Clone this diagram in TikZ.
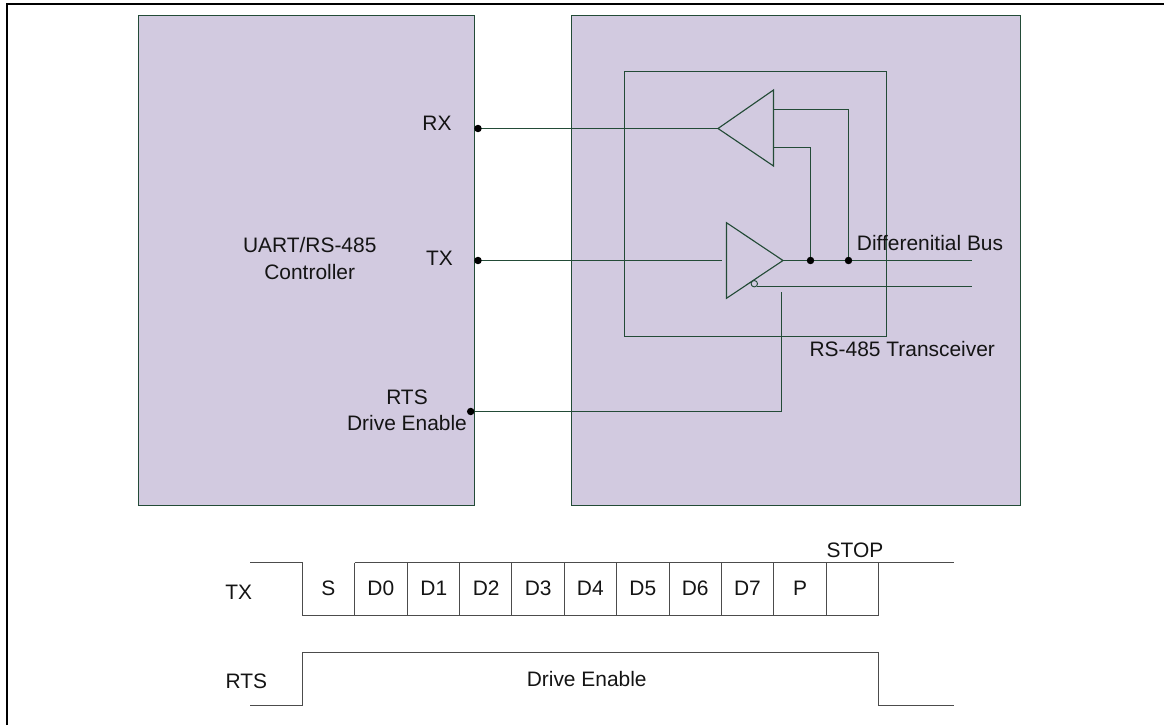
\documentclass[tikz,border=0pt]{standalone}
\usepackage{fontspec}
\setmainfont{Liberation Sans}
\definecolor{panel}{RGB}{210,202,224}
\definecolor{wire}{RGB}{35,75,55}
\tikzset{
  x=0.75pt,y=-0.75pt,
  panelbox/.style={draw=wire,fill=panel,line width=0.85pt},
  wireline/.style={draw=wire,line width=0.85pt},
  wave/.style={draw=black!70,line width=0.9pt},
  lbl/.style={font=\fontsize{15.7pt}{18pt}\selectfont,inner sep=0pt,anchor=base,text=black!92},
  jdot/.style={circle,fill=black,inner sep=0pt,minimum size=5.6pt},
  bubble/.style={circle,draw=wire,fill=panel,inner sep=0pt,minimum size=4.8pt,line width=0.7pt},
}
\begin{document}
\begin{tikzpicture}
\useasboundingbox (0,0) rectangle (1164,725);
\draw[black,line width=1.5pt] (7,725) -- (7,4.3) -- (1164,4.3);
\path[panelbox] (138.5,15.5) rectangle (474.5,505.5);
\path[panelbox] (571.5,15.5) rectangle (1020.5,505.5);
\path[wireline] (624.5,71.5) rectangle (886.5,336.5);
\coordinate (rxp) at (478,128.5);
\coordinate (txp) at (478,260.5);
\coordinate (rtsp) at (470.7,411.5);
\path[wireline] (718,128.5) -- (773.5,90) -- (773.5,166) -- cycle;
\path[wireline] (726.5,222.7) -- (783,260.5) -- (726.5,298.3) -- cycle;
\coordinate (j1) at (810.5,260.5);
\coordinate (j2) at (848.5,260.5);
\path[wireline] (rxp) -- (718,128.5);
\path[wireline] (txp) -- (721.7,260.5);
\path[wireline] (783,260.5) -- (971.7,260.5);
\path[wireline] (773.5,147.5) -| (j1);
\path[wireline] (773.5,109.5) -| (j2);
\path[wireline] (757,286.5) -- (971.7,286.5);
\path[wireline] (rtsp) -| (781.5,291.7);
\node[bubble] at (754.3,283.7) {};
\foreach \p in {rxp,txp,rtsp,j1,j2} \node[jdot] at (\p) {};
\node[lbl] at (437,130) {RX};
\node[lbl] at (439.5,265.5) {TX};
\node[lbl] at (309.7,252.7) {UART/RS-485};
\node[lbl] at (309.7,279) {Controller};
\node[lbl] at (930,250.7) {Differenitial Bus};
\node[lbl] at (902.3,356.7) {RS-485 Transceiver};
\node[lbl] at (407,404) {RTS};
\node[lbl] at (407,430) {Drive Enable};
\path[wave] (250,562.5) -| (302.5,615.5) -- (878.5,615.5);
\path[wave] (354.5,562.5) -- (953.7,562.5);
\foreach \x in {354.5,407.5,459.5,511.5,564.5,616.5,669.5,721.5,773.5,826.5,878.5}
  \path[wave] (\x,562.5) -- (\x,615.5);
\path[wave] (250,705.5) -| (302.5,652.5) -| (878.5,705.5) -- (953.7,705.5);
\node[lbl] at (238.7,599) {TX};
\node[lbl] at (246.3,688) {RTS};
\foreach \x/\t in {328.3/S,380.8/D0,433.8/D1,486.2/D2,538.2/D3,590.3/D4,642.8/D5,695.2/D6,747.5/D7,800/P}
  \node[lbl] at (\x,595.7) {\t};
\node[lbl] at (855,557.5) {STOP};
\node[lbl] at (586.7,686.7) {Drive Enable};
\end{tikzpicture}
\end{document}
